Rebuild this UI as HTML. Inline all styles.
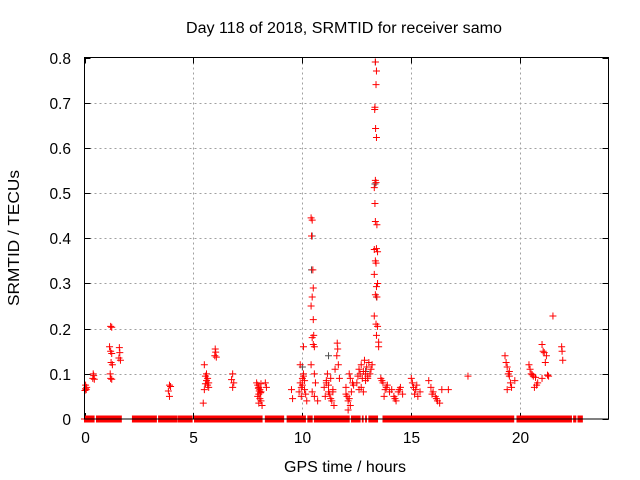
<!DOCTYPE html>
<html><head><meta charset="utf-8"><style>
body{margin:0;background:#fff}
svg{display:block;font-family:"Liberation Sans",sans-serif}
</style></head><body>
<svg id="chart" width="640" height="480" viewBox="0 0 640 480" xmlns="http://www.w3.org/2000/svg">
<text x="186" y="33" font-size="15.5" textLength="316" lengthAdjust="spacingAndGlyphs">Day 118 of 2018, SRMTID for receiver samo</text>
<text transform="translate(19,238) rotate(-90)" font-size="15.5" text-anchor="middle" textLength="136" lengthAdjust="spacingAndGlyphs">SRMTID / TECUs</text>
<text x="284" y="472" font-size="15.5" textLength="122" lengthAdjust="spacingAndGlyphs">GPS time / hours</text>
<g id="grid"></g>
<g id="ticks"></g>
<g id="zero"></g>
<g id="pts"></g>
<rect x="84.5" y="57.5" width="524" height="361.5" fill="none" stroke="#000" stroke-width="1"/>
</svg>
<script>
const xTicks=[0,5,10,15,20];
const yTicks=[0,0.1,0.2,0.3,0.4,0.5,0.6,0.7,0.8];
const yTickLabels=["0","0.1","0.2","0.3","0.4","0.5","0.6","0.7","0.8"];
const zeroSegments=[[0,0.45],[0.55,1.7],[2.2,3.3],[3.4,4.25],[4.3,4.95],[5.05,8.15],[8.3,9.15],[9.3,10.15],[10.25,10.45],[10.55,12.15],[12.25,12.65],[12.75,12.8],[12.9,12.95],[13.05,13.45],[13.7,19.7],[19.85,22.35],[22.45,22.55],[22.65,22.85]];
const hours=[0.05,0.05,0.08,0.1,0.02,0.4,0.42,0.45,0.38,
1.2,1.25,1.15,1.2,1.25,1.22,1.28,1.18,1.2,1.25,1.6,1.62,1.58,1.65,
3.9,3.95,3.85,3.9,
5.5,5.6,5.55,5.65,5.6,5.7,5.55,5.65,5.5,5.45,5.7,6.0,6.02,5.98,6.05,6.8,6.75,6.85,6.8,
7.9,7.95,8.0,8.05,8.1,8.0,7.95,8.05,8.1,8.0,8.15,8.02,8.08,7.98,8.3,8.35,8.1,
9.5,9.55,9.85,9.9,9.95,10.0,10.05,10.1,10.0,9.95,10.1,10.15,10.05,9.9,10.2,10.05,
10.4,10.45,10.42,10.48,10.5,10.45,10.4,10.5,10.52,10.45,10.5,10.55,10.4,10.55,10.6,10.45,10.7,10.55,
11.0,11.05,11.1,11.15,11.2,11.25,11.3,11.35,11.4,11.45,11.5,11.2,11.3,11.1,11.6,11.62,11.58,11.65,11.7,11.4,
12.0,12.05,12.1,12.15,12.2,12.25,12.3,12.1,12.2,12.0,12.15,12.35,
12.5,12.55,12.6,12.65,12.7,12.75,12.8,12.85,12.9,12.95,13.0,13.05,13.1,13.15,13.2,12.7,12.8,12.9,13.0,12.6,
13.35,13.4,13.38,13.33,13.32,13.36,13.4,13.35,13.38,13.3,13.33,13.35,13.42,13.4,13.3,13.45,13.35,13.38,13.3,13.45,13.4,13.35,13.42,13.3,13.38,13.45,13.4,13.5,
13.5,13.6,13.7,13.8,13.9,14.0,13.65,13.75,13.85,14.1,14.2,14.3,14.4,14.5,14.6,14.25,14.45,
15.0,15.05,15.1,15.2,15.3,15.4,15.15,15.25,15.8,15.9,16.0,16.1,16.2,16.3,16.4,15.95,16.15,16.7,17.6,
19.3,19.35,19.4,19.45,19.5,19.55,19.6,19.4,19.5,19.75,20.4,20.45,20.5,20.55,20.6,20.7,20.8,20.65,20.75,
21.0,21.05,21.1,21.2,21.15,21.25,21.3,21.0,21.5,21.9,21.92,21.95];
const values=[0.075,0.067,0.065,0.07,0.063,0.1,0.096,0.088,0.09,
0.205,0.203,0.16,0.15,0.145,0.125,0.12,0.1,0.09,0.088,0.158,0.147,0.135,0.13,
0.075,0.072,0.062,0.05,
0.12,0.1,0.095,0.09,0.085,0.08,0.078,0.075,0.065,0.035,0.07,0.155,0.148,0.14,0.137,0.1,0.087,0.08,0.07,
0.08,0.075,0.07,0.065,0.06,0.055,0.05,0.045,0.04,0.035,0.03,0.062,0.058,0.068,0.08,0.07,0.078,
0.065,0.045,0.06,0.08,0.07,0.09,0.1,0.085,0.075,0.05,0.065,0.055,0.16,0.12,0.04,0.095,
0.445,0.44,0.405,0.33,0.29,0.27,0.25,0.22,0.185,0.18,0.165,0.16,0.12,0.1,0.08,0.06,0.04,0.05,
0.07,0.05,0.08,0.1,0.06,0.055,0.09,0.04,0.065,0.03,0.11,0.075,0.045,0.085,0.168,0.155,0.14,0.12,0.09,0.06,
0.07,0.05,0.04,0.1,0.03,0.06,0.08,0.02,0.09,0.055,0.045,0.075,
0.08,0.095,0.11,0.1,0.12,0.09,0.105,0.13,0.1,0.115,0.09,0.125,0.1,0.11,0.12,0.07,0.06,0.085,0.095,0.065,
0.79,0.77,0.74,0.69,0.685,0.643,0.623,0.528,0.523,0.512,0.477,0.437,0.43,0.377,0.375,0.37,0.35,0.345,0.32,0.3,0.293,0.275,0.27,0.228,0.21,0.205,0.185,0.17,
0.16,0.09,0.08,0.065,0.075,0.06,0.085,0.05,0.07,0.065,0.05,0.04,0.06,0.07,0.055,0.045,0.065,
0.09,0.08,0.07,0.065,0.05,0.06,0.055,0.075,0.085,0.07,0.06,0.05,0.04,0.035,0.065,0.055,0.045,0.065,0.095,
0.14,0.125,0.115,0.1,0.095,0.08,0.07,0.065,0.105,0.085,0.12,0.11,0.1,0.098,0.095,0.092,0.08,0.07,0.075,
0.165,0.15,0.147,0.14,0.125,0.097,0.095,0.09,0.228,0.16,0.15,0.13];
const grayHours=[13.35,13.33,13.4,10.45,10.42,11.2,12.9,10.0];
const grayValues=[0.79,0.52,0.27,0.405,0.33,0.14,0.105,0.115];

const X0=84.5,X1=608.5,Y0=419,Y1=57.5,XMAX=24.05,YMAX=0.8;
function sx(h){return X0+h/XMAX*(X1-X0);}
function sy(v){return Y0-v/YMAX*(Y0-Y1);}
const NS="http://www.w3.org/2000/svg";
function mk(tag,attrs,parent){const e=document.createElementNS(NS,tag);for(const k in attrs)e.setAttribute(k,attrs[k]);parent.appendChild(e);return e;}
const grid=document.getElementById('grid'),ticks=document.getElementById('ticks');
xTicks.forEach((t,i)=>{const x=Math.round(sx(t))+0.5;
 if(t>0){const l=mk('line',{x1:x,x2:x,y1:Y1,y2:Y0,stroke:'#a0a0a0','stroke-dasharray':'2,3'},grid);
 
 }
 mk('line',{x1:x,x2:x,y1:Y0,y2:Y0-6,stroke:'#000'},ticks);
 mk('line',{x1:x,x2:x,y1:Y1,y2:Y1+6,stroke:'#000'},ticks);
 const tx=mk('text',{x:x,y:443,'font-size':15.5,'text-anchor':'middle'},ticks);tx.textContent=t;
 
 });
yTicks.forEach((t,i)=>{const y=Math.round(sy(t))+0.5;
 if(t>0&&t<0.8){const l=mk('line',{x1:X0,x2:X1,y1:y,y2:y,stroke:'#a0a0a0','stroke-dasharray':'2,3'},grid);
 
 }
 mk('line',{x1:X0,x2:X0+6,y1:y,y2:y,stroke:'#000'},ticks);
 mk('line',{x1:X1,x2:X1-6,y1:y,y2:y,stroke:'#000'},ticks);
 const tx=mk('text',{x:71,y:y+5.5,'font-size':15.5,'text-anchor':'end'},ticks);tx.textContent=yTickLabels[i];
 
 });
function plus(g,h,v,c){const x=sx(h),y=sy(v);
 const p=mk('path',{d:`M${x-3.5},${y}H${x+3.5}M${x},${y-3.5}V${y+3.5}`,stroke:c,'stroke-width':1,fill:'none'},g);
 
 }
const zg=document.getElementById('zero');
zeroSegments.forEach(s=>{const r=mk('rect',{x:sx(s[0])-3.5,y:sy(0)-3.5,width:sx(s[1])-sx(s[0])+7,height:7,fill:'none'},zg);
 
 
 for(let h=s[0];h<=s[1]+1e-9;h+=0.02)plus(zg,h,0,'#ff0000');});
const pg=document.getElementById('pts');
grayHours.forEach((h,i)=>plus(pg,h,grayValues[i],'#505050'));
hours.forEach((h,i)=>plus(pg,h,values[i],'#ff0000'));
</script>
</body></html>
